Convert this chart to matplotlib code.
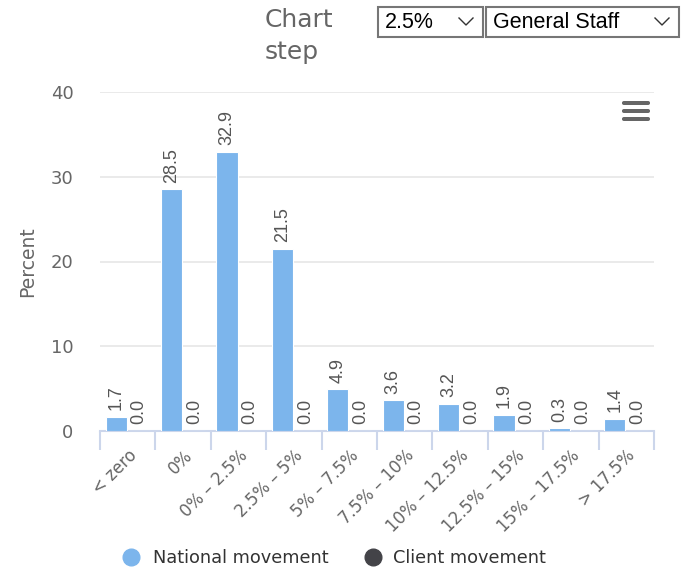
import matplotlib.pyplot as plt
from matplotlib.patches import Rectangle, FancyBboxPatch
from matplotlib.lines import Line2D

plt.rcParams["font.family"] = ["DejaVu Sans"]

W, H = 691, 569

categories = ["< zero", "0%", "0% – 2.5%", "2.5% – 5%", "5% – 7.5%",
              "7.5% – 10%", "10% – 12.5%", "12.5% – 15%", "15% – 17.5%", "> 17.5%"]
national = [1.7, 28.5, 32.9, 21.5, 4.9, 3.6, 3.2, 1.9, 0.3, 1.4]
client = [0.0, 0.0, 0.0, 0.0, 0.0, 0.0, 0.0, 0.0, 0.0, 0.0]
y_ticks = [0, 10, 20, 30, 40]


def px(x, y):
    return x / W, 1 - y / H


fig = plt.figure(figsize=(W / 100, H / 100), dpi=100)
ax = fig.add_axes([100 / W, 138 / H, 554 / W, 339 / H])

n = len(categories)
pos = list(range(n))
off = 0.208
bw = 0.38
ax.bar([p - off for p in pos], national, bw, color="#7cb5ec", edgecolor="white", linewidth=0.8, zorder=3)
ax.bar([p + off for p in pos], client, bw, color="#434348", edgecolor="white", linewidth=0.8, zorder=3)

for p, v in zip(pos, national):
    ax.annotate(f"{v:.1f}", (p - off, v), xytext=(0, 5), textcoords="offset points",
                rotation=90, ha="center", va="bottom", fontsize=13,
                family="Liberation Sans", color="#555555")
for p, v in zip(pos, client):
    ax.annotate(f"{v:.1f}", (p + off, v), xytext=(0, 5), textcoords="offset points",
                rotation=90, ha="center", va="bottom", fontsize=13,
                family="Liberation Sans", color="#555555")

ax.set_xlim(-0.5, n - 0.5)
ax.set_ylim(0, 40)

for s in ["top", "right", "left"]:
    ax.spines[s].set_visible(False)
ax.spines["bottom"].set_color("#ccd6eb")
ax.spines["bottom"].set_linewidth(1.5)

ax.set_yticks(y_ticks)
ax.tick_params(axis="y", length=0, pad=19, labelsize=13, labelcolor="#666666")
ax.yaxis.grid(True, color="#e6e6e6", linewidth=1.2, zorder=0)
ax.set_axisbelow(True)

ax.set_xticks([p - 0.5 for p in range(n + 1)])
ax.set_xticklabels([])
ax.tick_params(axis="x", which="major", length=14, width=1.5, color="#ccd6eb", direction="out")
ax.set_xticks(pos, minor=True)
ax.set_xticklabels(categories, minor=True, rotation=45, ha="right",
                   rotation_mode="anchor", fontsize=12, color="#666666")
ax.tick_params(axis="x", which="minor", length=0, pad=11)

ax.set_ylabel("Percent", fontsize=13.5, color="#666666", labelpad=10)

# header controls
fig.text(*px(265, 20), "Chart", fontsize=18, color="#666666", va="center", ha="left")
fig.text(*px(265, 52), "step", fontsize=18, color="#666666", va="center", ha="left")

for x0, x1, label in [(378, 483, "2.5%"), (486, 679, "General Staff")]:
    bx, by = px(x0, 37)
    fig.patches.append(Rectangle((bx, by), (x1 - x0) / W, 30 / H, transform=fig.transFigure,
                                 facecolor="white", edgecolor="#767676", linewidth=1.5))
    fig.text(*px(x0 + 7, 22), label, fontsize=15.5, family="Liberation Sans",
             color="black", va="center", ha="left")
    cx = x1 - 17
    xs = [px(cx - 7, 18)[0], px(cx, 25)[0], px(cx + 7, 18)[0]]
    ys = [px(cx - 7, 18)[1], px(cx, 25)[1], px(cx + 7, 18)[1]]
    fig.lines.append(Line2D(xs, ys, transform=fig.transFigure, color="#333333", linewidth=1))

# menu icon
for yy in [103, 111, 119]:
    x0, y0 = px(622, yy + 2)
    fig.patches.append(FancyBboxPatch((x0, y0), 28 / W, 4 / H, transform=fig.transFigure,
                                      boxstyle="round,pad=0,rounding_size=0.003",
                                      facecolor="#666666", edgecolor="none"))

# legend
fig.lines.append(Line2D([px(131, 557)[0]], [px(131, 557)[1]], transform=fig.transFigure,
                        marker="o", markersize=12, color="#7cb5ec", linestyle="none"))
fig.text(*px(153, 558), "National movement", fontsize=12.8, color="#333333", va="center")
fig.lines.append(Line2D([px(373, 557)[0]], [px(373, 557)[1]], transform=fig.transFigure,
                        marker="o", markersize=12, color="#434348", linestyle="none"))
fig.text(*px(393, 558), "Client movement", fontsize=12.8, color="#333333", va="center")

fig.savefig("out.png", dpi=100)
